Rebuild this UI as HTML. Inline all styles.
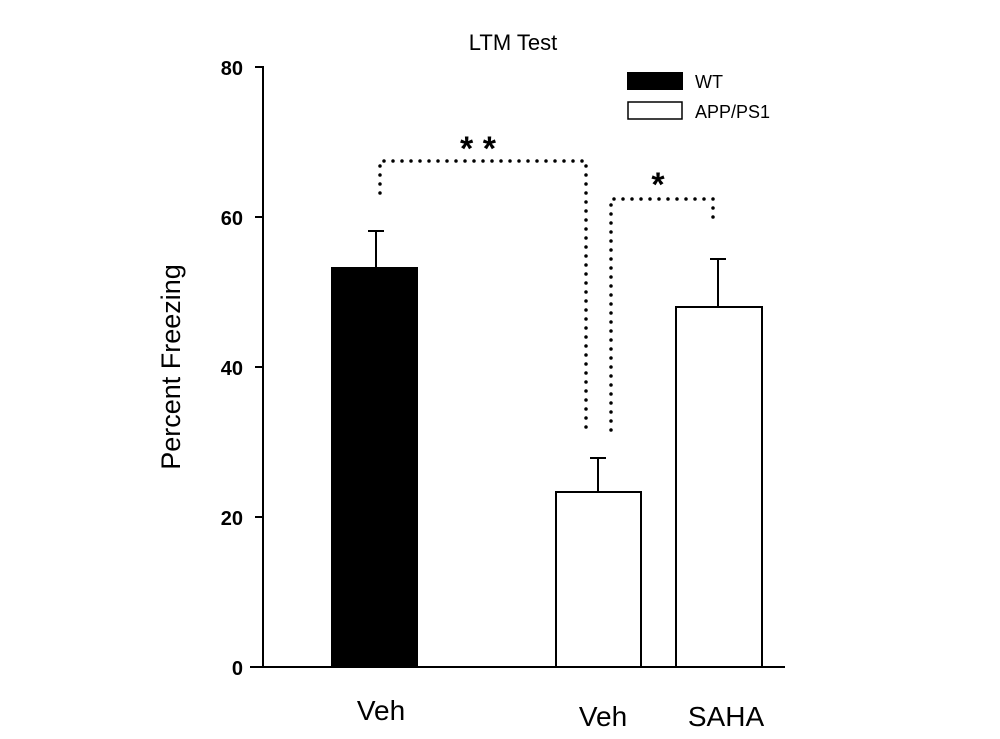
<!DOCTYPE html>
<html><head><style>body{margin:0;background:#fff}</style></head><body>
<svg width="1000" height="734" xmlns="http://www.w3.org/2000/svg" font-family="Liberation Sans, Arial, sans-serif">
<rect width="1000" height="734" fill="#fff"/>
<text x="513" y="50" font-size="22" text-anchor="middle">LTM Test</text>
<g stroke="#000" stroke-width="2" fill="none">
<line x1="263" y1="66" x2="263" y2="668"/>
<line x1="250" y1="667" x2="785" y2="667"/>
<line x1="255" y1="67" x2="263" y2="67"/>
<line x1="255" y1="217" x2="263" y2="217"/>
<line x1="255" y1="367" x2="263" y2="367"/>
<line x1="255" y1="517" x2="263" y2="517"/>
</g>
<g font-size="20" text-anchor="end" font-weight="bold">
<text x="243" y="75">80</text><text x="243" y="225">60</text><text x="243" y="375">40</text><text x="243" y="525">20</text><text x="243" y="675">0</text>
</g>
<text transform="translate(180,367) rotate(-90)" font-size="27" text-anchor="middle">Percent Freezing</text>
<g stroke="#000" stroke-width="2">
<line x1="376" y1="267" x2="376" y2="231"/><line x1="368" y1="231" x2="384" y2="231"/>
<line x1="598" y1="492" x2="598" y2="458"/><line x1="590" y1="458" x2="606" y2="458"/>
<line x1="718" y1="307" x2="718" y2="259"/><line x1="710" y1="259" x2="726" y2="259"/>
</g>
<rect x="331" y="267" width="87" height="400" fill="#000"/>
<rect x="556" y="492" width="85" height="175" fill="#fff" stroke="#000" stroke-width="2"/>
<rect x="676" y="307" width="86" height="360" fill="#fff" stroke="#000" stroke-width="2"/>
<g stroke="#000" stroke-width="3.5" stroke-dasharray="0 9" stroke-linecap="round" fill="none">
<polyline points="380,193 380,161 586,161 586,430"/>
<polyline points="611,430 611,199 713,199 713,218"/>
</g>
<text x="478" y="160" font-size="34" text-anchor="middle" font-weight="bold">* *</text>
<text x="658" y="196" font-size="34" text-anchor="middle" font-weight="bold">*</text>
<rect x="627" y="72" width="56" height="18" fill="#000"/>
<rect x="628" y="102" width="54" height="17" fill="#fff" stroke="#000" stroke-width="1.5"/>
<text x="695" y="88" font-size="18">WT</text>
<text x="695" y="118" font-size="18">APP/PS1</text>
<g font-size="28" text-anchor="middle">
<text x="381" y="720">Veh</text>
<text x="603" y="726">Veh</text>
<text x="726" y="726">SAHA</text>
</g>
</svg>
</body></html>
